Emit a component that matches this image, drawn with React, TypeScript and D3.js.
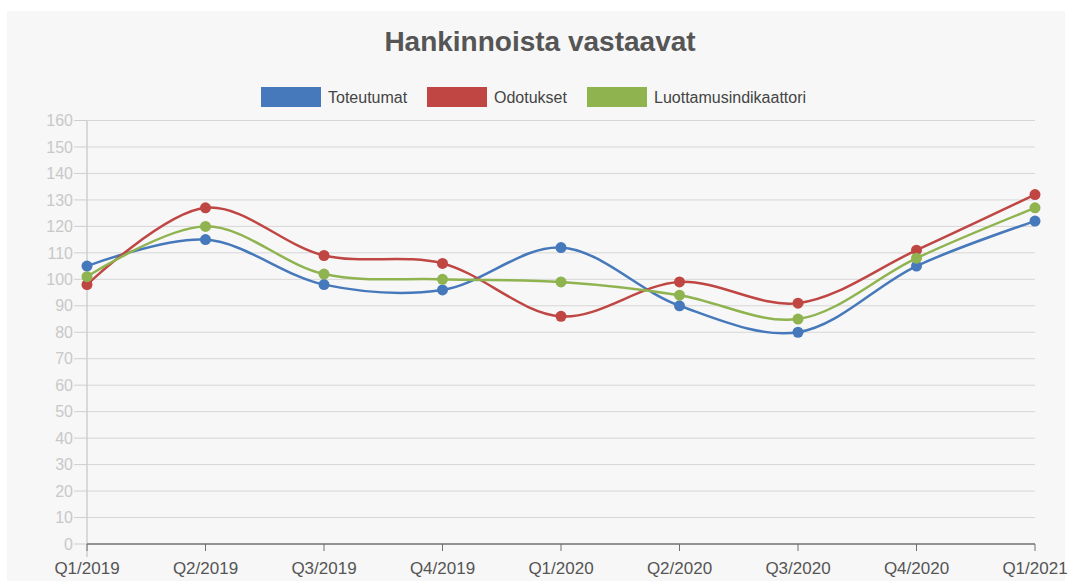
import React from "react";
import * as d3 from "d3";

const categories = ["Q1/2019", "Q2/2019", "Q3/2019", "Q4/2019", "Q1/2020", "Q2/2020", "Q3/2020", "Q4/2020", "Q1/2021"];
const toteutumat = [105, 115, 98, 96, 112, 90, 80, 105, 122];
const odotukset = [98, 127, 109, 106, 86, 99, 91, 111, 132];
const luottamus = [101, 120, 102, 100, 99, 94, 85, 108, 127];
const yTicks = d3.range(0, 161, 10);

const series = [
  { name: "Toteutumat", values: toteutumat, color: "#4679bb" },
  { name: "Odotukset", values: odotukset, color: "#bf4643" },
  { name: "Luottamusindikaattori", values: luottamus, color: "#8fb34f" },
];

const W = 1072, H = 581;
const left = 87, right = 1035, top = 120.5, bottom = 544;

export default function App() {
  const x = d3.scalePoint<string>().domain(categories).range([left, right]);
  const y = d3.scaleLinear().domain([0, 160]).range([bottom, top]);
  const line = d3
    .line<number>()
    .x((_, i) => x(categories[i]) as number)
    .y((d) => y(d))
    .curve(d3.curveCatmullRom.alpha(0.5));

  const legendItems = [
    { x: 261, textX: 328 },
    { x: 427, textX: 494 },
    { x: 587, textX: 654 },
  ];

  return (
    <svg width={W} height={H} style={{ position: "absolute", left: 0, top: 0 }} fontFamily="'Liberation Sans', Arial, sans-serif">
      <rect x={0} y={0} width={W} height={H} fill="#ffffff" />
      <rect x={7} y={11} width={1058} height={H - 11} fill="#f7f7f7" />
      <text x={540} y={51} textAnchor="middle" fontSize={28} fontWeight="bold" fill="#555">
        Hankinnoista vastaavat
      </text>
      {series.map((s, i) => (
        <g key={s.name}>
          <rect x={legendItems[i].x} y={87} width={60} height={20} fill={s.color} />
          <text x={legendItems[i].textX} y={103} fontSize={16} fill="#444">
            {s.name}
          </text>
        </g>
      ))}
      {yTicks.filter((t) => t > 0).map((t) => (
        <line key={t} x1={left} x2={right} y1={y(t)} y2={y(t)} stroke="#d6d6d6" strokeWidth={1} />
      ))}
      <line x1={left} x2={left} y1={top} y2={557} stroke="#cfcfcf" strokeWidth={1.5} />
      {yTicks.map((t) => (
        <g key={t}>
          <line x1={74} x2={left} y1={y(t)} y2={y(t)} stroke="#cfcfcf" strokeWidth={1} />
          <text x={73} y={y(t) + 5.7} textAnchor="end" fontSize={16} fill="#c8c8c8">
            {t}
          </text>
        </g>
      ))}
      <line x1={left} x2={right} y1={bottom} y2={bottom} stroke="#707070" strokeWidth={1.5} />
      {categories.map((c) => (
        <g key={c}>
          <line x1={x(c)} x2={x(c)} y1={bottom} y2={bottom + 7} stroke="#707070" strokeWidth={1} />
          <text x={x(c)} y={573.5} textAnchor="middle" fontSize={17} fill="#555">
            {c}
          </text>
        </g>
      ))}
      {series.map((s) => (
        <g key={s.name}>
          <path d={line(s.values) || ""} fill="none" stroke={s.color} strokeWidth={2.5} />
          {s.values.map((v, i) => (
            <circle key={i} cx={x(categories[i])} cy={y(v)} r={5.5} fill={s.color} />
          ))}
        </g>
      ))}
    </svg>
  );
}
